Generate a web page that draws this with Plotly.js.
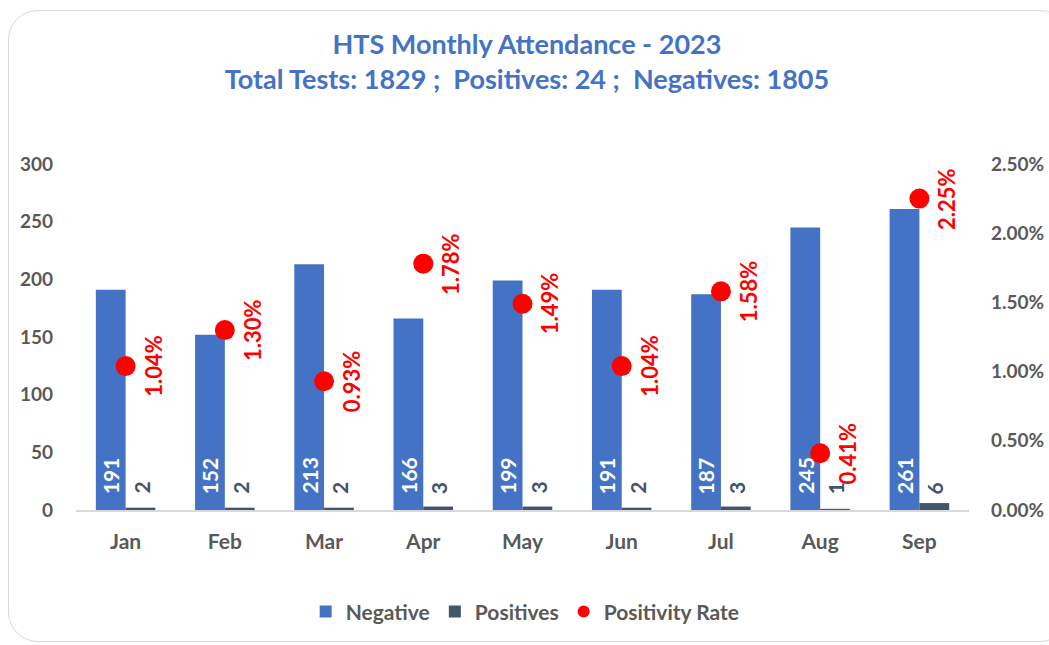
<!DOCTYPE html>
<html>
<head>
<meta charset="utf-8">
<script src="https://cdn.plot.ly/plotly-3.0.1.min.js"></script>
<style>
  html, body { margin: 0; padding: 0; background: #fff; overflow: hidden; }
  #chart { width: 1049px; height: 645px; }
  #frame { position: absolute; left: 8px; top: 10px; width: 1060px; height: 630px;
           border: 1.5px solid #d9d9d9; border-radius: 30px; pointer-events: none; }
</style>
</head>
<body>
<div id="chart"></div>
<div id="frame"></div>
<script>
const months = ["Jan", "Feb", "Mar", "Apr", "May", "Jun", "Jul", "Aug", "Sep"];
const negatives = [191, 152, 213, 166, 199, 191, 187, 245, 261];
const positives = [2, 2, 2, 3, 3, 2, 3, 1, 6];
const positivityRate = [0.0104, 0.0130, 0.0093, 0.0178, 0.0149, 0.0104, 0.0158, 0.0041, 0.0225];
const rateLabels = ["1.04%", "1.30%", "0.93%", "1.78%", "1.49%", "1.04%", "1.58%", "0.41%", "2.25%"];
const leftTicks = [0, 50, 100, 150, 200, 250, 300];
const rightTicks = [0, 0.005, 0.01, 0.015, 0.02, 0.025];

const FONT = "Lato, 'Open Sans', sans-serif";
const GREY = "#595959";

const traces = [
  { type: "bar", name: "Negative", x: months, y: negatives,
    marker: { color: "#4472C4" }, hoverinfo: "skip" },
  { type: "bar", name: "Positives", x: months, y: positives,
    marker: { color: "#44546A" }, hoverinfo: "skip" },
  { type: "scatter", mode: "markers", name: "Positivity Rate", x: months, y: positivityRate,
    yaxis: "y2", marker: { color: "#FF0000", size: 20 }, hoverinfo: "skip" }
];

const annotations = [];
months.forEach((m, i) => {
  annotations.push({ x: m, y: 0, xref: "x", yref: "y", text: String(negatives[i]),
    textangle: -90, showarrow: false, xanchor: "center", yanchor: "bottom",
    xshift: -15, yshift: 14, font: { family: FONT, size: 21, color: "#ffffff" } });
  annotations.push({ x: m, y: 0, xref: "x", yref: "y", text: String(positives[i]),
    textangle: -90, showarrow: false, xanchor: "center", yanchor: "bottom",
    xshift: 15, yshift: 14, font: { family: FONT, size: 21, color: "#44546A" } });
  annotations.push({ x: m, y: positivityRate[i], xref: "x", yref: "y2", text: rateLabels[i],
    textangle: -90, showarrow: false, xanchor: "center", yanchor: "middle",
    xshift: 27, yshift: 0, font: { family: FONT, size: 22, color: "#FF0000" } });
});

const layout = {
  width: 1049, height: 645,
  margin: { l: 76, r: 80, t: 164, b: 135 },
  paper_bgcolor: "#ffffff", plot_bgcolor: "#ffffff",
  font: { family: FONT, color: GREY, size: 19, weight: 700 },
  title: {
    text: "<b>HTS Monthly Attendance - 2023</b><br><b>Total Tests: 1829 ;  Positives: 24 ;  Negatives: 1805</b>",
    font: { family: FONT, size: 27, color: "#4472C4" },
    x: 0.505, xanchor: "center", xref: "paper",
    y: 1 - 54 / 645, yanchor: "top", yref: "container"
  },
  barmode: "group", bargap: 0.4, bargroupgap: 0,
  xaxis: {
    type: "category", range: [-0.5, 8.5], autorange: false,
    showgrid: false, showline: true, linecolor: "#d9d9d9", linewidth: 2,
    ticks: "", tickfont: { family: FONT, size: 21, color: GREY, weight: 700 },
    ticklabelstandoff: 12, fixedrange: true, automargin: false
  },
  yaxis: {
    range: [0, 300], tickvals: leftTicks, showgrid: false, zeroline: false,
    ticks: "", tickfont: { family: FONT, size: 19, color: GREY, weight: 700 },
    ticklabelstandoff: 22, fixedrange: true, automargin: false
  },
  yaxis2: {
    overlaying: "y", side: "right", range: [0, 0.025], tickvals: rightTicks,
    tickformat: ".2%", showgrid: false, zeroline: false, ticks: "",
    tickfont: { family: FONT, size: 19, color: GREY, weight: 700 },
    ticklabelstandoff: 21, fixedrange: true, automargin: false
  },
  showlegend: true,
  legend: {
    orientation: "h", x: 0.503, xanchor: "center", y: -0.235, yanchor: "top",
    font: { family: FONT, size: 21, color: GREY, weight: 700 },
    itemsizing: "constant", traceorder: "normal"
  },
  annotations: annotations
};

Plotly.newPlot("chart", traces, layout, { displayModeBar: false, staticPlot: true });
</script>
</body>
</html>
